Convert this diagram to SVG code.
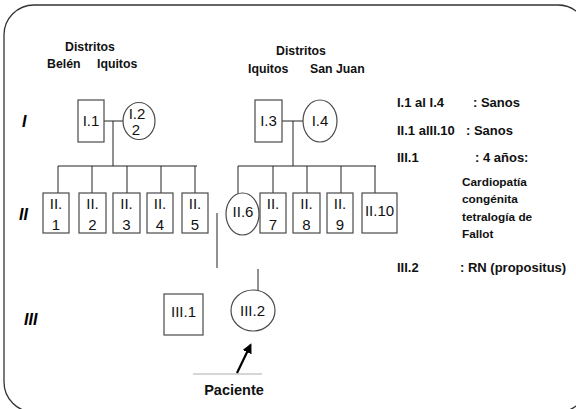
<svg xmlns="http://www.w3.org/2000/svg" width="576" height="409" viewBox="0 0 576 409">
<defs>
<style>
.frame{fill:none;stroke:#333;stroke-width:1.3}
.box{fill:#fff;stroke:#4a4a4a;stroke-width:1.2}
.ln{fill:none;stroke:#222;stroke-width:1}
.nl{font-family:"Liberation Sans",Arial,sans-serif;font-size:15px;fill:#111;text-anchor:middle}
.hd{font-family:"Liberation Sans",Arial,sans-serif;font-size:12.3px;font-weight:bold;fill:#111}
.lg{font-family:"Liberation Sans",Arial,sans-serif;font-size:13px;font-weight:bold;fill:#111}
.ds{font-family:"Liberation Sans",Arial,sans-serif;font-size:11.8px;font-weight:bold;fill:#111}
.gen{font-family:"Liberation Sans",Arial,sans-serif;font-size:16px;font-weight:bold;font-style:italic;fill:#000}
</style>
<marker id="ah" viewBox="0 0 10 10" refX="8" refY="5" markerWidth="4.5" markerHeight="4.5" orient="auto">
<path d="M0,0 L10,5 L0,10 z" fill="#000"/>
</marker>
</defs>
<rect width="576" height="409" fill="#fff"/>
<rect class="frame" x="4" y="5" width="584" height="407" rx="30" ry="30"/>

<g id="headers">
<text class="hd" x="90" y="51" text-anchor="middle">Distritos</text>
<text class="hd" x="47" y="68">Belén</text>
<text class="hd" x="97" y="68">Iquitos</text>
<text class="hd" x="301" y="55" text-anchor="middle">Distritos</text>
<text class="hd" x="248" y="73">Iquitos</text>
<text class="hd" x="310" y="73">San Juan</text>
</g>

<g id="generations">
<text class="gen" x="22" y="127">I</text>
<text class="gen" x="19" y="220">II</text>
<text class="gen" x="24" y="325">III</text>
</g>

<g id="connectors">
<path class="ln" d="M104,121 H123 M113,121 V166 M58,166 H197 M58,166 V193 M92,166 V193 M127,166 V193 M161,166 V193 M195,166 V193"/>
<path class="ln" d="M282,121 H303 M293,121 V166 M238,166 H376 M238,166 V194 M273,166 V193 M307,166 V193 M341,166 V193 M375,166 V193"/>
<path class="ln" d="M217,213 V268 M258,269 V291"/>
<line x1="193" y1="374" x2="262" y2="374" stroke="#c8c8c8" stroke-width="1.5"/>
<line x1="237" y1="373" x2="250.5" y2="345" stroke="#000" stroke-width="2.2" marker-end="url(#ah)"/>
</g>

<g id="I1"><rect class="box" x="78" y="100" width="26" height="42"/><text class="nl" x="91" y="126">I.1</text></g>
<g id="I2"><ellipse class="box" cx="139" cy="121" rx="16" ry="18.5"/><text class="nl" x="137" y="119" font-size="12.5">I.2</text><text class="nl" x="136" y="135" font-size="12.5">2</text></g>
<g id="I3"><rect class="box" x="255" y="100" width="27" height="42"/><text class="nl" x="268.5" y="126">I.3</text></g>
<g id="I4"><ellipse class="box" cx="320" cy="121" rx="17" ry="21"/><text class="nl" x="320" y="126">I.4</text></g>

<g id="II1"><rect class="box" x="43" y="193" width="26" height="40"/><text class="nl" x="56" y="209">II.</text><text class="nl" x="56" y="230">1</text></g>
<g id="II2"><rect class="box" x="79" y="193" width="27" height="40"/><text class="nl" x="92.5" y="209">II.</text><text class="nl" x="92.5" y="230">2</text></g>
<g id="II3"><rect class="box" x="113" y="193" width="27" height="40"/><text class="nl" x="126.5" y="209">II.</text><text class="nl" x="126.5" y="230">3</text></g>
<g id="II4"><rect class="box" x="147" y="193" width="26" height="40"/><text class="nl" x="160" y="209">II.</text><text class="nl" x="160" y="230">4</text></g>
<g id="II5"><rect class="box" x="182" y="193" width="26" height="40"/><text class="nl" x="195" y="209">II.</text><text class="nl" x="195" y="230">5</text></g>
<g id="II6"><ellipse class="box" cx="242.5" cy="214" rx="16.5" ry="21"/><text class="nl" x="243" y="217">II.6</text></g>
<g id="II7"><rect class="box" x="260" y="193" width="26" height="40"/><text class="nl" x="273" y="209">II.</text><text class="nl" x="273" y="230">7</text></g>
<g id="II8"><rect class="box" x="293" y="193" width="27" height="40"/><text class="nl" x="306.5" y="209">II.</text><text class="nl" x="306.5" y="230">8</text></g>
<g id="II9"><rect class="box" x="327" y="193" width="26" height="40"/><text class="nl" x="340" y="209">II.</text><text class="nl" x="340" y="230">9</text></g>
<g id="II10"><rect class="box" x="362" y="193" width="35" height="40"/><text class="nl" x="379.5" y="216">II.10</text></g>

<g id="III1"><rect class="box" x="164" y="294" width="39" height="41"/><text class="nl" x="183.5" y="317">III.1</text></g>
<g id="III2"><ellipse class="box" cx="253" cy="310.5" rx="22" ry="20.5"/><text class="nl" x="252.5" y="316">III.2</text></g>

<g id="paciente"><text x="234" y="395" text-anchor="middle" font-family="'Liberation Sans',Arial,sans-serif" font-size="14.5" font-weight="bold" fill="#111">Paciente</text></g>

<g id="legend">
<text class="lg" x="397" y="107">I.1 al I.4</text><text class="lg" x="473" y="107">: Sanos</text>
<text class="lg" x="397" y="135">II.1 alII.10</text><text class="lg" x="466" y="135">: Sanos</text>
<text class="lg" x="397" y="162">III.1</text><text class="lg" x="475" y="162">: 4 años:</text>
<text class="ds" x="462" y="186">Cardiopatía</text>
<text class="ds" x="462" y="203">congénita</text>
<text class="ds" x="462" y="221">tetralogía de</text>
<text class="ds" x="462" y="238">Fallot</text>
<text class="lg" x="397" y="272">III.2</text><text class="lg" x="460" y="272">: RN (propositus)</text>
</g>
</svg>
